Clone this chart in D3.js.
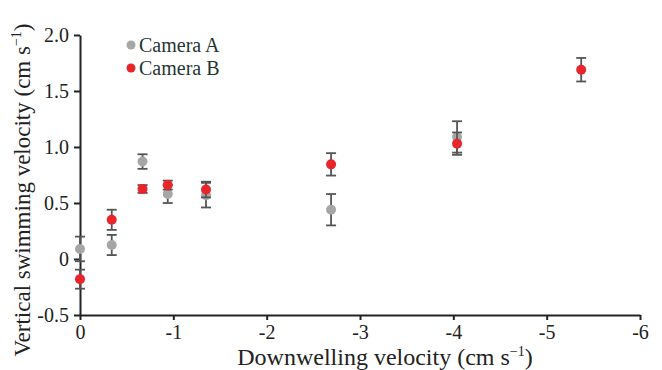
<!DOCTYPE html>
<html>
<head>
<meta charset="utf-8">
<script src="https://cdn.jsdelivr.net/npm/d3@7"></script>
<style>
  body { margin: 0; background: #fff; }
</style>
</head>
<body>
<script>
// downwelling velocities (cm s-1)
const downwelling = [0, -0.34, -0.67, -0.94, -1.35, -2.69, -4.04, -5.37]

// camera A, last treatment not shown
const camA = [0.09, 0.125, 0.87, 0.58, 0.57, 0.44, 1.09, null]
const camAErr = [0.11, 0.09, 0.065, 0.08, 0.11, 0.14, 0.14, null]

// camera B
const camB = [-0.18, 0.35, 0.625, 0.66, 0.62, 0.845, 1.03, 1.69]
const camBErr = [0.085, 0.09, 0.035, 0.04, 0.07, 0.1, 0.1, 0.105]

const xTicks = [0, -1, -2, -3, -4, -5, -6]
const yTicks = [-0.5, 0, 0.5, 1.0, 1.5, 2.0]

const series = [
  { name: "Camera A", color: "#a6a6a6", values: camA, errs: camAErr },
  { name: "Camera B", color: "#e8252b", values: camB, errs: camBErr }
]

const FONT = "'Liberation Serif'"
const width = 662, height = 370
const margin = { top: 35, right: 22, bottom: 55, left: 80 }

const svg = d3.select("body").append("svg")
    .attr("width", width)
    .attr("height", height)

const x = d3.scaleLinear().domain([0, -6]).range([margin.left, width - margin.right])
const y = d3.scaleLinear().domain([-0.5, 2.0]).range([height - margin.bottom, margin.top])

// hyphen minus like the original
const fmtX = d => String(d)
const fmtY = d => d === 0 ? "0" : d.toFixed(1)

// axes
const xAxis = svg.append("g")
    .attr("transform", "translate(0," + y(-0.5) + ")")
    .call(d3.axisBottom(x).tickValues(xTicks).tickFormat(fmtX).tickSize(5).tickSizeOuter(0))
const yAxis = svg.append("g")
    .attr("transform", "translate(" + x(0) + ",0)")
    .call(d3.axisLeft(y).tickValues(yTicks).tickFormat(fmtY).tickSize(6).tickSizeOuter(0))

svg.selectAll(".domain").attr("stroke", "#222").attr("stroke-width", 2)
svg.selectAll(".tick line").attr("stroke", "#222").attr("stroke-width", 2)
xAxis.selectAll(".tick text").style("font-family", FONT).style("font-size", "20px")
    .attr("fill", "#222").attr("dy", "0.8em")
yAxis.selectAll(".tick text").style("font-family", FONT).style("font-size", "20px")
    .attr("fill", "#222").attr("x", -11)

// axis titles
svg.append("text")
    .attr("x", (x(0) + x(-6)) / 2 + 25)
    .attr("y", 365)
    .attr("text-anchor", "middle")
    .style("font-family", FONT)
    .style("font-size", "24px")
    .attr("fill", "#222")
    .html('Downwelling velocity (cm s<tspan dy="-9" font-size="14">−1</tspan><tspan dy="9">)</tspan>')

svg.append("text")
    .attr("transform", "translate(30," + ((y(2) + y(-0.5)) / 2 + 15) + ") rotate(-90)")
    .attr("text-anchor", "middle")
    .style("font-family", FONT)
    .style("font-size", "23px")
    .attr("fill", "#222")
    .html('Vertical swimming velocity (cm s<tspan dy="-9" font-size="14">−1</tspan><tspan dy="9">)</tspan>')

// error bars + points
series.forEach(s => {
  const pts = downwelling.map((d, i) => ({ x: d, v: s.values[i], e: s.errs[i] }))
      .filter(p => p.v !== null)
  const g = svg.append("g")

  const eb = g.selectAll(".err").data(pts).enter().append("g")
      .attr("stroke", "#555").attr("stroke-width", 1.8)
  eb.append("line")
      .attr("x1", d => x(d.x)).attr("x2", d => x(d.x))
      .attr("y1", d => y(d.v - d.e)).attr("y2", d => y(d.v + d.e))
  eb.append("line")
      .attr("x1", d => x(d.x) - 5).attr("x2", d => x(d.x) + 5)
      .attr("y1", d => y(d.v + d.e)).attr("y2", d => y(d.v + d.e))
  eb.append("line")
      .attr("x1", d => x(d.x) - 5).attr("x2", d => x(d.x) + 5)
      .attr("y1", d => y(d.v - d.e)).attr("y2", d => y(d.v - d.e))

  g.selectAll("circle").data(pts).enter().append("circle")
      .attr("cx", d => x(d.x))
      .attr("cy", d => y(d.v))
      .attr("r", 5)
      .attr("fill", s.color)
})

// legend
const legend = svg.append("g").selectAll("g").data(series).enter().append("g")
    .attr("transform", (d, i) => "translate(131," + (45 + i * 23) + ")")
legend.append("circle").attr("r", 4.5).attr("fill", d => d.color)
legend.append("text")
    .attr("x", 8).attr("dy", "0.35em")
    .style("font-family", FONT)
    .style("font-size", "20px")
    .attr("fill", "#1f3535")
    .text(d => d.name)
</script>
</body>
</html>
